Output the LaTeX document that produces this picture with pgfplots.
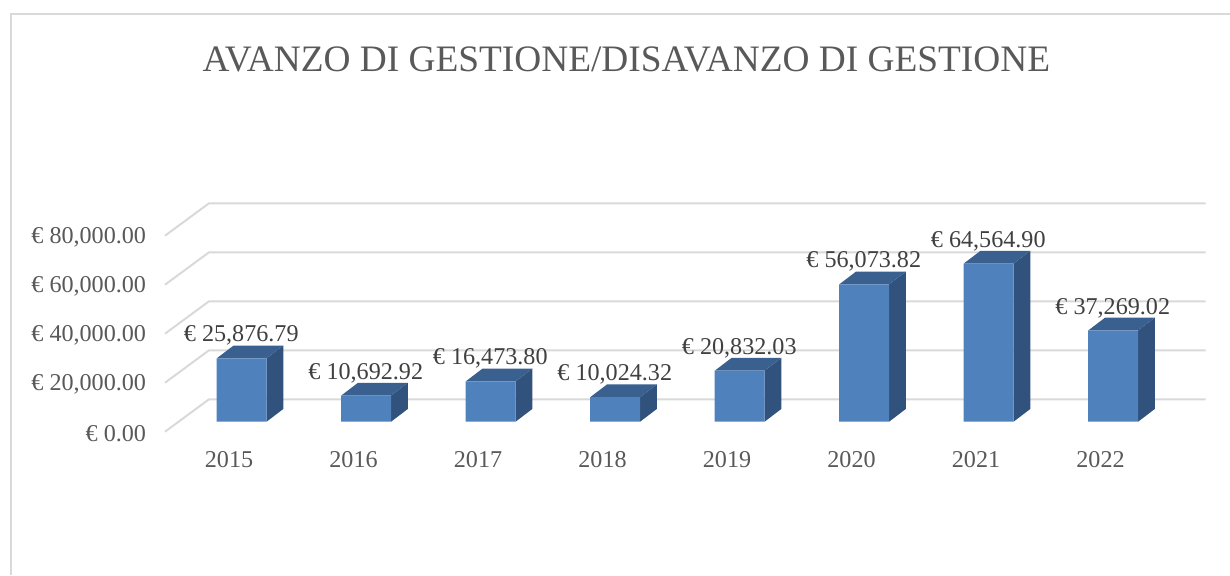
\documentclass[border=0pt]{standalone}
\usepackage{fontspec}
\setmainfont{Liberation Serif}
\usepackage{pgfplots}
\usepackage{pgfplotstable}
\pgfplotsset{compat=1.18}
\definecolor{gridc}{HTML}{D9D9D9}
\definecolor{txt}{HTML}{595959}
\definecolor{lab}{HTML}{404040}
\definecolor{front}{HTML}{4F81BD}
\definecolor{sidec}{HTML}{31527C}
\definecolor{topc}{HTML}{3A6090}
\newdimen\px \px=0.75pt
\pgfplotstableread{
idx value
0 25876.79
1 10692.92
2 16473.80
3 10024.32
4 20832.03
5 56073.82
6 64564.90
7 37269.02
}\bars
\newcommand\gline[2]{\addplot[color=gridc,line width=2\px,forget plot] coordinates {(-0.616,#1)(-0.2627,#2)(7.743,#2)};}
\newcommand\depth[6]{%
\addplot[fill=sidec,draw=none,forget plot] coordinates {(#2,0)(#3,5184)(#3,#6)(#2,#5)(#2,0)};
\addplot[fill=topc,draw=none,forget plot] coordinates {(#1,#5)(#2,#5)(#3,#6)(#4,#6)(#1,#5)};
}
\begin{document}
\begin{tikzpicture}[x=1pt,y=1pt]
\useasboundingbox (0,0) rectangle (922.5,431.25);
\draw[color=gridc,line width=2\px] (8,0) -- (8,420.75) -- (922.5,420.75);
\begin{axis}[
  at={(123.75pt,107.475pt)},anchor=south west,
  scale only axis,width=780.5pt,height=171.3pt,
  xmin=-0.616,xmax=7.743,ymin=-4082,ymax=89143,
  clip=false,
  axis line style={draw=none},
  major tick length=0pt,
  xtick={0,1,2,3,4,5,6,7},
  xticklabels={2015,2016,2017,2018,2019,2020,2021,2022},
  ytick={0,20000,40000,60000,80000},
  scaled y ticks=false,
  /pgf/number format/assume math mode=true,
  yticklabel={€ \pgfmathprintnumber[fixed,fixed zerofill,precision=2,1000 sep={,}]{\tick}},
  tick label style={font=\fontsize{18.1}{20}\selectfont,text=txt},
  xticklabel style={anchor=center,xshift=-9.5pt,yshift=-21pt},
  yticklabel style={anchor=east,inner sep=0pt,xshift=-14pt,yshift=-9pt},
  title={AVANZO DI GESTIONE/DISAVANZO DI GESTIONE},
  title style={at={(axis cs:3.09,144776)},anchor=center,font=\fontsize{28}{30}\selectfont,text=txt},
]
\gline{-4082}{9143}
\gline{15918}{29143}
\gline{35918}{49143}
\gline{55918}{69143}
\gline{75918}{89143}
\depth{-0.2}{0.2}{0.334}{-0.066}{25876.79}{31060.79}
\depth{0.8}{1.2}{1.334}{0.934}{10692.92}{15876.92}
\depth{1.8}{2.2}{2.334}{1.934}{16473.80}{21657.80}
\depth{2.8}{3.2}{3.334}{2.934}{10024.32}{15208.32}
\depth{3.8}{4.2}{4.334}{3.934}{20832.03}{26016.03}
\depth{4.8}{5.2}{5.334}{4.934}{56073.82}{61257.82}
\depth{5.8}{6.2}{6.334}{5.934}{64564.90}{69748.90}
\depth{6.8}{7.2}{7.334}{6.934}{37269.02}{42453.02}
\addplot[ybar,bar width=37.5pt,bar shift=0pt,fill=front,draw=none,
  nodes near coords={€ \pgfmathprintnumber[fixed,fixed zerofill,precision=2,1000 sep={,}]{\pgfplotspointmeta}},
  point meta=y,
  nodes near coords align={anchor=center,yshift=16.9pt},
  every node near coord/.append style={font=\fontsize{18.1}{20}\selectfont,text=lab,xshift=-0.3pt},
] table[x=idx,y=value]{\bars};
\end{axis}
\end{tikzpicture}
\end{document}
